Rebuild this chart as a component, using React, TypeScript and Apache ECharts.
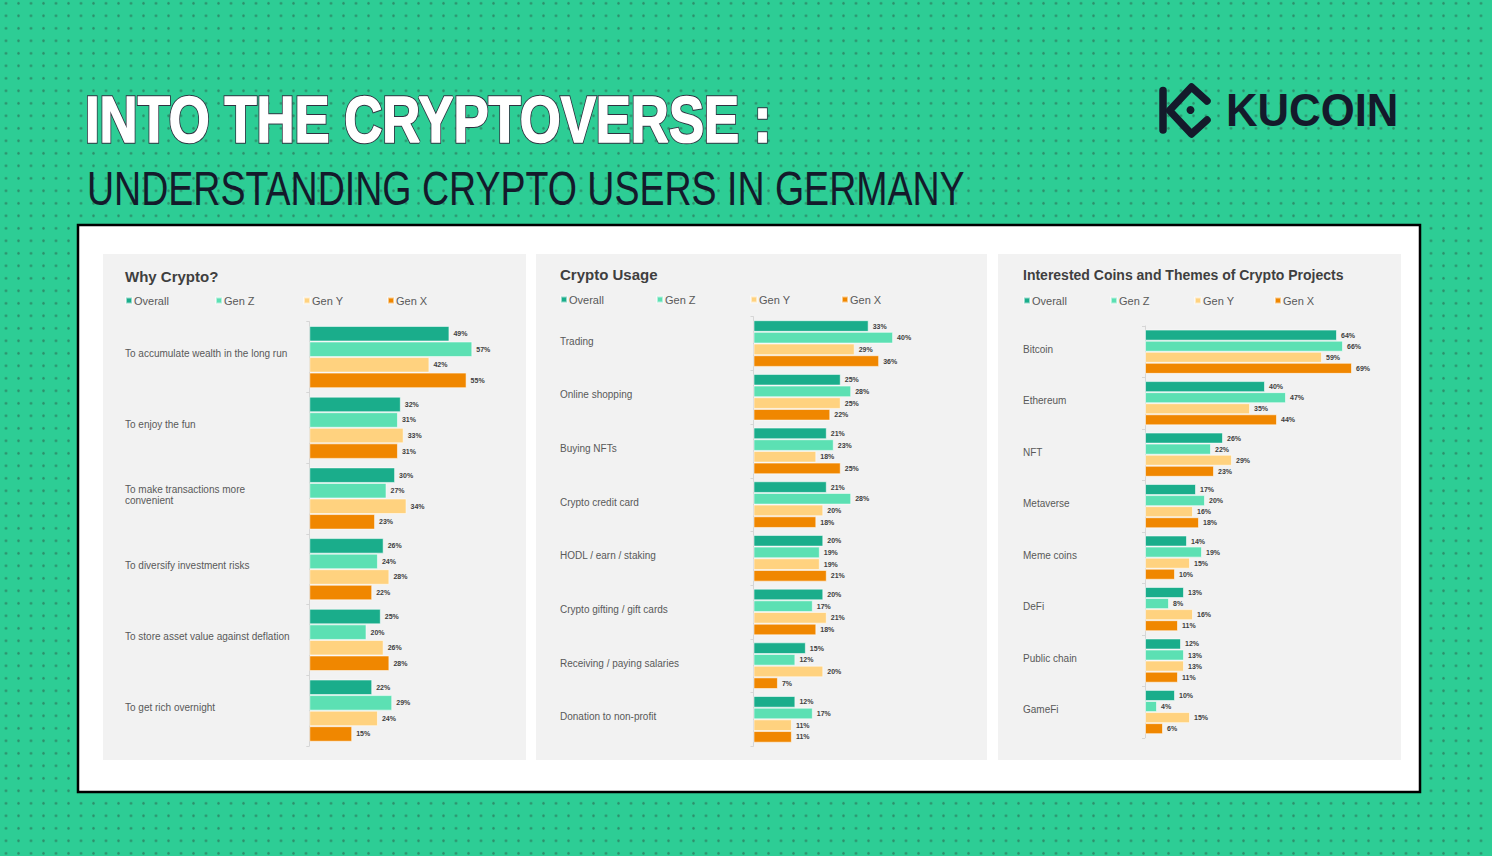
import React, { useEffect, useRef } from "react";
import * as echarts from "echarts";

// ---------- data ----------
const SERIES_NAMES = ["Overall", "Gen Z", "Gen Y", "Gen X"];

const whyCategories = [
  "To accumulate wealth in the long run",
  "To enjoy the fun",
  "To make transactions more\nconvenient",
  "To diversify investment risks",
  "To store asset value against deflation",
  "To get rich overnight",
];
const whyOverall = [49, 32, 30, 26, 25, 22];
const whyGenZ = [57, 31, 27, 24, 20, 29];
const whyGenY = [42, 33, 34, 28, 26, 24];
const whyGenX = [55, 31, 23, 22, 28, 15];

const usageCategories = [
  "Trading",
  "Online shopping",
  "Buying NFTs",
  "Crypto credit card",
  "HODL / earn / staking",
  "Crypto gifting / gift cards",
  "Receiving / paying salaries",
  "Donation to non-profit",
];
const usageOverall = [33, 25, 21, 21, 20, 20, 15, 12];
const usageGenZ = [40, 28, 23, 28, 19, 17, 12, 17];
const usageGenY = [29, 25, 18, 20, 19, 21, 20, 11];
const usageGenX = [36, 22, 25, 18, 21, 18, 7, 11];

const coinCategories = [
  "Bitcoin",
  "Ethereum",
  "NFT",
  "Metaverse",
  "Meme coins",
  "DeFi",
  "Public chain",
  "GameFi",
];
const coinOverall = [64, 40, 26, 17, 14, 13, 12, 10];
const coinGenZ = [66, 47, 22, 20, 19, 8, 13, 4];
const coinGenY = [59, 35, 29, 16, 15, 16, 13, 15];
const coinGenX = [69, 44, 23, 18, 10, 11, 11, 6];

const PANEL_TITLES = [
  "Why Crypto?",
  "Crypto Usage",
  "Interested Coins and Themes of Crypto Projects",
];

// ---------- style / layout ----------
const COLORS = ["#1aad8b", "#5ce0b3", "#ffd27f", "#f08700"];
const FONT = "'Liberation Sans', Arial, sans-serif";
const DARK = "#141a2b";

const PANELS = [
  { x: 103, y: 254, w: 423, h: 506, titleX: 125, titleY: 276, titleSize: 15,
    legendX: [125, 215, 303, 387], legendY: 302, labelLift: 7,
    grid: { left: 309.3, top: 321.7, width: 200.2, height: 424.3 }, max: 70, gap: "12%" },
  { x: 536, y: 254, w: 451, h: 506, titleX: 560, titleY: 274, titleSize: 15,
    legendX: [560, 656, 750, 841], legendY: 301, labelLift: 5,
    grid: { left: 753.5, top: 316.7, width: 209.4, height: 429.5 }, max: 60, gap: "13%" },
  { x: 998, y: 254, w: 403, h: 506, titleX: 1023, titleY: 275, titleSize: 14,
    legendX: [1023, 1110, 1194, 1274], legendY: 302, labelLift: 5,
    grid: { left: 1145, top: 326, width: 240, height: 411.8 }, max: 80, gap: "14%" },
];
const LABEL_X = [125, 560, 1023];

function buildOption() {
  const categories = [whyCategories, usageCategories, coinCategories];
  const values = [
    [whyOverall, whyGenZ, whyGenY, whyGenX],
    [usageOverall, usageGenZ, usageGenY, usageGenX],
    [coinOverall, coinGenZ, coinGenY, coinGenX],
  ];

  const grid = PANELS.map((p) => ({ ...p.grid, containLabel: false }));
  const xAxis = PANELS.map((p, i) => ({
    type: "value", gridIndex: i, min: 0, max: p.max, show: false,
  }));
  const yAxis = PANELS.map((p, i) => ({
    type: "category",
    gridIndex: i,
    data: categories[i],
    inverse: true,
    z: 5,
    axisLine: { show: true, lineStyle: { color: "#d6d6d6", width: 1 } },
    axisTick: { show: true, length: 3, lineStyle: { color: "#d6d6d6" } },
    axisLabel: {
      align: "left",
      verticalAlign: "middle",
      margin: p.grid.left - LABEL_X[i],
      // an empty spacer line below the label lifts it slightly above the band centre
      formatter: (v: string) =>
        v.split("\n").map((s) => `{a|${s}}`).join("\n") + "\n{gap| }",
      rich: {
        a: { fontSize: 10, lineHeight: 11, color: "#595959", fontFamily: FONT },
        gap: { fontSize: 1, lineHeight: p.labelLift, height: p.labelLift },
      },
    },
  }));

  const series: any[] = [];
  values.forEach((group, i) => {
    group.forEach((data, j) => {
      series.push({
        type: "bar",
        name: SERIES_NAMES[j],
        xAxisIndex: i,
        yAxisIndex: i,
        data,
        barGap: "0%",
        barCategoryGap: PANELS[i].gap,
        z: 6,
        itemStyle: { color: COLORS[j], borderColor: "rgba(255,255,255,0.55)", borderWidth: 1 },
        label: {
          show: true,
          position: "right",
          distance: 4,
          formatter: "{c}%",
          fontSize: 7,
          fontWeight: "bold",
          color: "#404040",
          fontFamily: FONT,
        },
      });
    });
  });

  const legend: any[] = [];
  PANELS.forEach((p) => {
    SERIES_NAMES.forEach((name, j) => {
      legend.push({
        data: [name],
        left: p.legendX[j],
        top: p.legendY - 7,
        padding: 0,
        icon: "rect",
        itemWidth: 6,
        itemHeight: 6,
        selectedMode: false,
        textStyle: { fontSize: 11, color: "#595959", fontFamily: FONT, padding: [0, 0, 0, -3] },
      });
    });
  });

  const headingStyle = {
    text: "INTO THE CRYPTOVERSE :", fontFamily: FONT, fontWeight: "bold", fontSize: 65,
    align: "left", verticalAlign: "middle",
  };

  const graphic: any[] = [
    { type: "rect", z: 0, shape: { x: 78, y: 225, width: 1342, height: 567 },
      style: { fill: "#ffffff", stroke: "#000000", lineWidth: 2.5 } },
    ...PANELS.map((p) => ({
      type: "rect", z: 1, shape: { x: p.x, y: p.y, width: p.w, height: p.h },
      style: { fill: "#f2f2f2" },
    })),
    ...PANELS.map((p, i) => ({
      type: "text", z: 10, x: p.titleX, y: p.titleY,
      style: { text: PANEL_TITLES[i], fontFamily: FONT, fontWeight: "bold", fontSize: p.titleSize,
        fill: "#3f3f3f", align: "left", verticalAlign: "middle" },
    })),
    // heading: dark outline layer, then bold white layer
    { type: "text", z: 10, x: 85, y: 119, scaleX: 0.81,
      style: { ...headingStyle, fill: "#ffffff", stroke: "#303240", lineWidth: 3.6, lineJoin: "round" } },
    { type: "text", z: 11, x: 85, y: 119, scaleX: 0.81, silent: true,
      style: { ...headingStyle, fill: "#ffffff", stroke: "#ffffff", lineWidth: 1.6, lineJoin: "round" } },
    { type: "text", z: 10, x: 87, y: 188, scaleX: 0.79,
      style: { text: "UNDERSTANDING CRYPTO USERS IN GERMANY", fontFamily: FONT, fontSize: 47.5,
        fill: DARK, align: "left", verticalAlign: "middle" } },
    // KuCoin logo
    { type: "line", z: 10, shape: { x1: 1163, y1: 90.5, x2: 1163, y2: 130 },
      style: { stroke: DARK, lineWidth: 7.5, lineCap: "round" } },
    { type: "polyline", z: 10,
      shape: { points: [[1207, 101], [1191.5, 87], [1169.5, 110.5], [1191.5, 134], [1207, 120]] },
      style: { stroke: DARK, lineWidth: 7.5, lineCap: "round", lineJoin: "round", fill: null } },
    { type: "circle", z: 10, shape: { cx: 1190.5, cy: 110, r: 4 }, style: { fill: DARK } },
    { type: "text", z: 10, x: 1226, y: 109.5, scaleX: 0.93,
      style: { text: "KUCOIN", fontFamily: FONT, fontWeight: "bold", fontSize: 47,
        fill: DARK, align: "left", verticalAlign: "middle" } },
  ];

  return {
    animation: false,
    backgroundColor: "transparent",
    grid,
    xAxis,
    yAxis,
    series,
    legend,
    graphic,
  };
}

export default function App() {
  const ref = useRef<HTMLDivElement>(null);
  useEffect(() => {
    document.body.style.margin = "0";
    const chart = echarts.init(ref.current!, undefined, { renderer: "svg" });
    chart.setOption(buildOption() as any);
    return () => chart.dispose();
  }, []);
  return (
    <div
      style={{
        position: "fixed",
        left: 0,
        top: 0,
        width: 1492,
        height: 856,
        overflow: "hidden",
        backgroundColor: "#2dcd95",
        backgroundImage:
          "radial-gradient(circle at center, rgba(45,110,85,0.65) 0.9px, rgba(45,110,85,0) 1.6px)",
        backgroundSize: "12.5px 12.5px",
        backgroundPosition: "-0.25px -2.95px",
      }}
    >
      <div ref={ref} style={{ width: 1492, height: 856 }} />
    </div>
  );
}
